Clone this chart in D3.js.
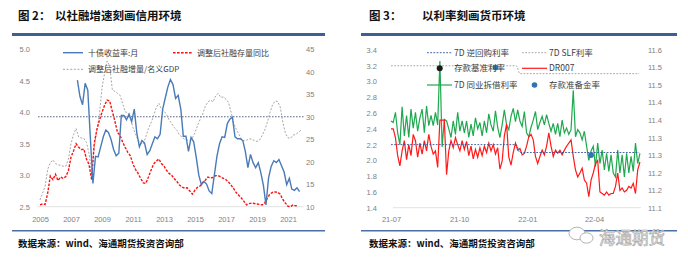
<!DOCTYPE html>
<html><head><meta charset="utf-8">
<script src="https://cdn.jsdelivr.net/npm/d3@7"></script>
<style>
body{margin:0;background:#fff;}
svg{display:block;}
.ax text{font-family:"Liberation Sans",Arial,sans-serif;font-size:7.5px;fill:#808080;}
.lg{font-family:"Noto Sans CJK SC",sans-serif;fill:#404040;}
.hd{font-family:"Noto Sans CJK SC",sans-serif;font-weight:bold;fill:#111;}
</style></head>
<body>
<script>
// ---------------- Chart 2 data (monthly, 2-month step) ----------------
const c2BlueStart = "2007-06";
const c2Blue = [4.51,4.25,4.12,4.46,4.35,3.60,2.87,3.30,3.29,3.45,
 3.61,3.72,3.68,3.57,3.41,3.31,3.35,3.95,3.95,3.88,
 3.97,3.85,4.05,3.67,3.45,3.55,3.51,3.33,3.39,3.50,
 3.61,3.58,3.65,4.05,4.23,4.40,4.52,4.44,4.22,4.27,
 4.05,3.62,3.62,3.38,3.60,3.53,3.28,3.00,2.85,2.90,
 2.86,2.75,2.71,3.00,3.30,3.50,3.61,3.60,3.82,3.89,
 3.92,3.61,3.58,3.58,3.55,3.38,3.12,3.33,3.20,3.12,
 3.20,3.04,2.84,2.53,2.96,3.14,3.23,3.20,3.25,3.15,
 3.05,2.85,2.95,2.78,2.76,2.80,2.74];
const c2RedStart = "2005-01";
const c2Red = [10.4,10.6,10.5,13.0,16.8,16.0,17.2,15.8,16.6,16.3,
 16.7,18.0,21.0,22.4,24.0,23.2,22.7,22.8,20.6,19.4,
 16.0,24.0,27.1,29.2,31.0,32.5,33.7,33.5,31.2,29.0,
 26.5,25.9,24.4,23.2,22.1,21.3,19.5,18.3,17.4,16.3,
 15.3,15.2,16.6,18.1,19.5,20.1,20.6,19.6,19.0,18.1,
 17.4,17.0,16.2,15.6,14.8,14.4,14.1,14.2,13.5,12.8,
 13.7,14.3,14.6,15.4,15.9,16.6,16.4,16.5,16.9,16.9,
 16.6,16.3,16.0,15.5,14.8,14.0,13.1,12.5,11.9,11.2,
 10.4,10.7,10.8,10.7,10.6,10.5,10.4,10.8,11.9,12.8,
 13.2,13.3,13.2,12.8,11.6,10.8,10.1,10.0,10.4,10.2,
 10.3];
const c2GrayStart = "2005-01";
const c2Gray = [11.5,13.0,14.5,18.3,19.8,20.4,19.6,19.3,19.2,19.0,
 19.0,20.5,24.0,26.0,27.4,25.5,25.3,25.2,24.3,21.8,
 17.5,23.0,27.1,30.5,36.4,39.6,42.4,41.3,36.0,35.6,
 35.2,34.8,33.0,31.1,30.9,29.8,27.6,26.1,24.8,24.1,
 23.9,25.6,27.4,28.6,30.2,32.0,33.0,31.7,31.3,30.5,
 29.3,28.5,27.6,27.0,25.9,25.5,25.0,24.8,24.8,25.3,
 26.5,28.0,29.4,30.6,32.3,33.3,33.7,33.3,34.6,35.2,
 34.3,34.4,33.9,33.2,31.0,28.6,27.2,26.1,25.1,24.6,
 24.8,25.1,25.0,24.7,24.5,24.8,25.8,27.0,28.7,30.9,
 32.6,33.5,33.4,32.2,28.8,26.3,25.3,25.2,25.9,26.1,
 26.5,27.0];
const c2RefLine = 30;
const c2LeftTicks = [2.5,3.0,3.5,4.0,4.5,5.0];
const c2RightTicks = [10,15,20,25,30,35,40,45];
const c2YearTicks = ["2005","2007","2009","2011","2013","2015","2017","2019","2021"];
const c2Names = ["十债收益率:月","调整后社融存量同比","调整后社融增量/名义GDP"];

// ---------------- Chart 3 data (3-day step from 2021-07-01) ----------------
const c3Start = "2021-07-01";
const c3Interbank = [2.50,2.48,2.61,2.35,2.20,2.68,2.31,2.57,2.29,2.65,
 2.41,2.61,2.37,2.54,2.65,2.35,2.69,2.44,2.57,2.44,
 2.61,2.45,3.26,2.17,2.52,2.50,2.40,2.29,2.50,2.33,
 2.61,2.37,2.50,2.35,2.50,2.29,2.46,2.31,2.54,2.40,
 2.48,2.31,2.50,2.35,2.59,2.45,2.37,2.63,2.42,2.29,
 2.45,2.64,2.45,2.39,2.56,2.66,2.49,2.64,2.50,2.43,
 2.62,2.35,2.30,2.42,2.51,2.62,2.39,2.48,2.56,2.45,
 2.58,2.47,2.37,2.47,2.33,2.47,2.30,2.51,2.35,2.41,
 2.33,2.39,2.89,2.30,2.39,2.35,2.26,2.37,2.18,2.00,
 2.12,2.18,1.92,2.22,1.96,2.13,1.88,2.09,1.86,2.07,
 1.84,1.79,2.13,1.84,2.07,1.79,2.09,1.84,2.05,1.86,
 2.22,1.96,2.09];
const c3DR007 = [2.40,2.40,2.29,2.06,1.93,2.12,2.25,2.01,2.20,2.06,
 2.33,2.25,2.04,2.22,2.08,2.25,2.12,2.33,2.18,2.08,
 2.12,1.91,2.51,2.51,2.51,1.82,2.12,2.25,2.16,2.29,
 2.20,2.12,2.25,2.14,2.24,2.06,2.18,2.02,2.14,2.04,
 2.16,2.06,2.18,2.10,2.22,2.12,2.20,2.08,2.16,1.89,
 1.99,2.31,2.46,2.04,1.94,2.10,2.22,2.13,2.15,2.07,
 2.09,2.18,2.30,2.33,2.26,2.05,1.96,2.05,2.13,2.07,
 2.18,2.35,2.18,2.05,2.13,2.09,2.13,2.07,2.13,2.18,
 2.22,2.26,2.05,1.88,1.79,1.84,1.90,1.75,1.71,1.54,
 1.75,1.84,1.96,2.00,1.60,1.58,1.56,1.60,1.56,1.58,
 1.58,1.67,1.84,1.62,1.65,1.60,1.62,1.67,1.65,1.71,
 1.58,1.88,1.98];
const c3PolicyDates = ["2021-07-01","2021-12-17","2021-12-22","2022-06-01"];
const c3Repo = [2.2,2.2,2.1,2.1];
const c3SLF = [3.2,3.2,3.1,3.1];
const c3RRRDates = ["2021-11-19","2022-03-28"];
const c3RRR = [11.55,11.30];
const c3LeftTicks = [1.4,1.6,1.8,2.0,2.2,2.4,2.6,2.8,3.0,3.2,3.4];
const c3RightTicks = [11.15,11.2,11.25,11.3,11.35,11.4,11.45,11.5,11.55,11.6];
const c3RightLabels = ["11.1","11.2","11.2","11.3","11.3","11.4","11.4","11.5","11.5","11.6"];
const c3MonthTicks = ["2021-07-01","2021-10-01","2022-01-01","2022-04-01"];
const c3Names = ["7D 逆回购利率","7D SLF利率","存款基准利率","DR007","7D 同业拆借利率","存款准备金率"];

// ---------------- drawing ----------------
const pm = d3.timeParse("%Y-%m"), pd = d3.timeParse("%Y-%m-%d");
const svg = d3.select("body").append("svg").attr("width",688).attr("height",266);

function header(x0, x1, tx1, tx2, t1, t2){
  svg.append("text").attr("class","hd").attr("x",tx1).attr("y",19.5).style("font-size","11.5px").text(t1);
  svg.append("text").attr("class","hd").attr("x",tx2).attr("y",19.5).style("font-size","11.5px").text(t2);
  svg.append("line").attr("x1",x0).attr("x2",x1).attr("y1",34.5).attr("y2",34.5).attr("stroke","#3f5f94").attr("stroke-width",3);
  svg.append("line").attr("x1",x0).attr("x2",x1).attr("y1",230.7).attr("y2",230.7).attr("stroke","#4a6fa5").attr("stroke-width",1.5);
}
header(12,325,18,55,"图 2：","以社融增速刻画信用环境");
header(361,677,369,422,"图 3：","以利率刻画货币环境");

function cleanAxis(g){ g.select(".domain").remove(); g.selectAll(".tick line").remove(); }

// ===== Chart 2 =====
const x2 = d3.scaleTime().domain([pm("2005-01"), pm("2022-01")]).range([40, 303.5]);
const yL2 = d3.scaleLinear().domain([2.5,5]).range([206.7,49.3]);
const yR2 = d3.scaleLinear().domain([10,45]).range([206.7,49.3]);

svg.append("line").attr("x1",x2.range()[0]-2).attr("x2",x2.range()[1]).attr("y1",yL2(2.5)).attr("y2",yL2(2.5)).attr("stroke","#d9d9d9").attr("stroke-width",0.8);

svg.append("g").attr("class","ax").attr("transform","translate(30,0)")
  .call(d3.axisLeft(yL2).tickValues(c2LeftTicks).tickFormat(d3.format(".1f")).tickSize(0).tickPadding(0)).call(cleanAxis);
svg.append("g").attr("class","ax").attr("transform","translate(306,0)")
  .call(d3.axisRight(yR2).tickValues(c2RightTicks).tickFormat(d3.format("d")).tickSize(0).tickPadding(0)).call(cleanAxis);
svg.append("g").attr("class","ax").attr("transform","translate(0,216.5)")
  .call(d3.axisBottom(x2).tickValues(c2YearTicks.map(y=>d3.timeParse("%Y")(y))).tickFormat(d3.timeFormat("%Y")).tickSize(0).tickPadding(0)).call(cleanAxis);

const seriesPts = (start, vals, stepMonths) => vals.map((v,i)=>({d:d3.timeMonth.offset(pm(start), i*stepMonths), v}));
const gData = seriesPts(c2GrayStart, c2Gray, 2);
const rData = seriesPts(c2RedStart, c2Red, 2);
const bData = seriesPts(c2BlueStart, c2Blue, 2);

svg.append("line").attr("x1",38).attr("x2",303.5).attr("y1",yR2(c2RefLine)).attr("y2",yR2(c2RefLine))
  .attr("stroke","#4a5a78").attr("stroke-width",0.9).attr("stroke-dasharray","1.6,1.4");

svg.append("path").datum(gData).attr("fill","none").attr("stroke","#a6a6a6").attr("stroke-width",1).attr("stroke-dasharray","2,1.6")
  .attr("d", d3.line().x(d=>x2(d.d)).y(d=>yR2(d.v)));
svg.append("path").datum(rData).attr("fill","none").attr("stroke","#ff1010").attr("stroke-width",1.4).attr("stroke-dasharray","2.6,1.4")
  .attr("d", d3.line().x(d=>x2(d.d)).y(d=>yR2(d.v)));
svg.append("path").datum(bData).attr("fill","none").attr("stroke","#4a7ab8").attr("stroke-width",1.4)
  .attr("d", d3.line().x(d=>x2(d.d)).y(d=>yL2(d.v)));

// legend chart 2
const lg2 = svg.append("g");
lg2.append("line").attr("x1",63).attr("x2",83).attr("y1",52.7).attr("y2",52.7).attr("stroke","#4a7ab8").attr("stroke-width",1.4);
lg2.append("text").attr("class","lg").attr("x",88).attr("y",55.6).style("font-size","8px").text(c2Names[0]);
lg2.append("line").attr("x1",173).attr("x2",193).attr("y1",52.7).attr("y2",52.7).attr("stroke","#ff1010").attr("stroke-width",1.4).attr("stroke-dasharray","2.6,1.4");
lg2.append("text").attr("class","lg").attr("x",197).attr("y",55.6).style("font-size","8px").text(c2Names[1]);
lg2.append("line").attr("x1",63).attr("x2",83).attr("y1",69.3).attr("y2",69.3).attr("stroke","#a6a6a6").attr("stroke-width",1).attr("stroke-dasharray","2,1.6");
lg2.append("text").attr("class","lg").attr("x",88).attr("y",72.2).style("font-size","8px").text(c2Names[2]);

// ===== Chart 3 =====
const x3 = d3.scaleTime().domain([pd("2021-07-01"), pd("2022-06-01")]).range([391, 639.2]);
const yL3 = d3.scaleLinear().domain([1.4,3.4]).range([207.7,50]);
const yR3 = d3.scaleLinear().domain([11.15,11.6]).range([207.7,50]);

svg.append("line").attr("x1",393).attr("x2",641).attr("y1",yL3(1.4)).attr("y2",yL3(1.4)).attr("stroke","#d9d9d9").attr("stroke-width",0.8);

svg.append("g").attr("class","ax").attr("transform","translate(377,0)")
  .call(d3.axisLeft(yL3).tickValues(c3LeftTicks).tickFormat(d3.format(".1f")).tickSize(0).tickPadding(0)).call(cleanAxis);
svg.append("g").attr("class","ax").attr("transform","translate(648,0)")
  .call(d3.axisRight(yR3).tickValues(c3RightTicks).tickFormat((d,i)=>c3RightLabels[i]).tickSize(0).tickPadding(0)).call(cleanAxis);
svg.append("g").attr("class","ax").attr("transform","translate(0,216.5)")
  .call(d3.axisBottom(x3).tickValues(c3MonthTicks.map(pd)).tickFormat(d3.timeFormat("%y-%m")).tickSize(0).tickPadding(0)).call(cleanAxis);

const dailyPts = vals => vals.map((v,i)=>({d:d3.timeDay.offset(pd(c3Start), i*3), v}));
const ibData = dailyPts(c3Interbank), drData = dailyPts(c3DR007);
const polPts = vals => vals.map((v,i)=>({d:pd(c3PolicyDates[i]), v}));

svg.append("path").datum(ibData).attr("fill","none").attr("stroke","#1fa84f").attr("stroke-width",1.2)
  .attr("d", d3.line().x(d=>x3(d.d)).y(d=>yL3(d.v)));
svg.append("path").datum(drData).attr("fill","none").attr("stroke","#ff1a1a").attr("stroke-width",1.2)
  .attr("d", d3.line().x(d=>x3(d.d)).y(d=>yL3(d.v)));
svg.append("path").datum(polPts(c3SLF)).attr("fill","none").attr("stroke","#a0a0a0").attr("stroke-width",0.9).attr("stroke-dasharray","1.8,1.4")
  .attr("d", d3.line().curve(d3.curveMonotoneX).x(d=>x3(d.d)).y(d=>yL3(d.v)));
svg.append("path").datum(polPts(c3Repo)).attr("fill","none").attr("stroke","#2f5597").attr("stroke-width",0.9).attr("stroke-dasharray","1.8,1.4")
  .attr("d", d3.line().curve(d3.curveMonotoneX).x(d=>x3(d.d)).y(d=>yL3(d.v)));
svg.selectAll(".rrr").data(c3RRR).enter().append("circle").attr("class","rrr")
  .attr("cx",(v,i)=>x3(pd(c3RRRDates[i]))).attr("cy",v=>yR3(v)).attr("r",2.8).attr("fill","#2e75b6");

// legend chart 3
const lg3 = svg.append("g");
const rowsY = [52.7, 68.3, 85];
lg3.append("line").attr("x1",427).attr("x2",452).attr("y1",rowsY[0]).attr("y2",rowsY[0]).attr("stroke","#2f5597").attr("stroke-width",0.9).attr("stroke-dasharray","1.8,1.4");
lg3.append("line").attr("x1",522).attr("x2",547).attr("y1",rowsY[0]).attr("y2",rowsY[0]).attr("stroke","#a0a0a0").attr("stroke-width",0.9).attr("stroke-dasharray","1.8,1.4");
lg3.append("circle").attr("cx",439.7).attr("cy",rowsY[1]).attr("r",3).attr("fill","#1a1a1a");
lg3.append("line").attr("x1",522).attr("x2",547).attr("y1",rowsY[1]).attr("y2",rowsY[1]).attr("stroke","#ff1a1a").attr("stroke-width",1.2);
lg3.append("line").attr("x1",427).attr("x2",452).attr("y1",rowsY[2]).attr("y2",rowsY[2]).attr("stroke","#1fa84f").attr("stroke-width",1.2);
lg3.append("circle").attr("cx",534.5).attr("cy",rowsY[2]).attr("r",2.8).attr("fill","#2e75b6");
[[454,0,0],[549,0,1],[454,1,2],[549,1,3],[454,2,4],[549,2,5]].forEach(([x,r,k])=>{
  lg3.append("text").attr("class","lg").attr("x",x).attr("y",rowsY[r]+3).style("font-size","8.5px").text(c3Names[k]);
});

// footers
svg.append("text").attr("class","hd").attr("x",18).attr("y",246.8).style("font-size","9.5px").text("数据来源：wind、海通期货投资咨询部");
svg.append("text").attr("class","hd").attr("x",369).attr("y",246.8).style("font-size","9.5px").text("数据来源：wind、海通期货投资咨询部");

// watermark
const wm = svg.append("g");
wm.append("ellipse").attr("cx",577).attr("cy",233.5).attr("rx",8).attr("ry",6.3).attr("fill","#fff").attr("stroke","#b5b5b5").attr("stroke-width",1);
wm.append("ellipse").attr("cx",586.5).attr("cy",238).attr("rx",6.5).attr("ry",5.2).attr("fill","#fff").attr("stroke","#b5b5b5").attr("stroke-width",1);
wm.append("text").attr("x",599).attr("y",244).style("font-family","Noto Sans CJK SC").style("font-size","16.5px")
  .attr("fill","#ffffff").attr("stroke","#a8a8a8").attr("stroke-width",0.7).text("海通期货");
</script>
</body></html>
